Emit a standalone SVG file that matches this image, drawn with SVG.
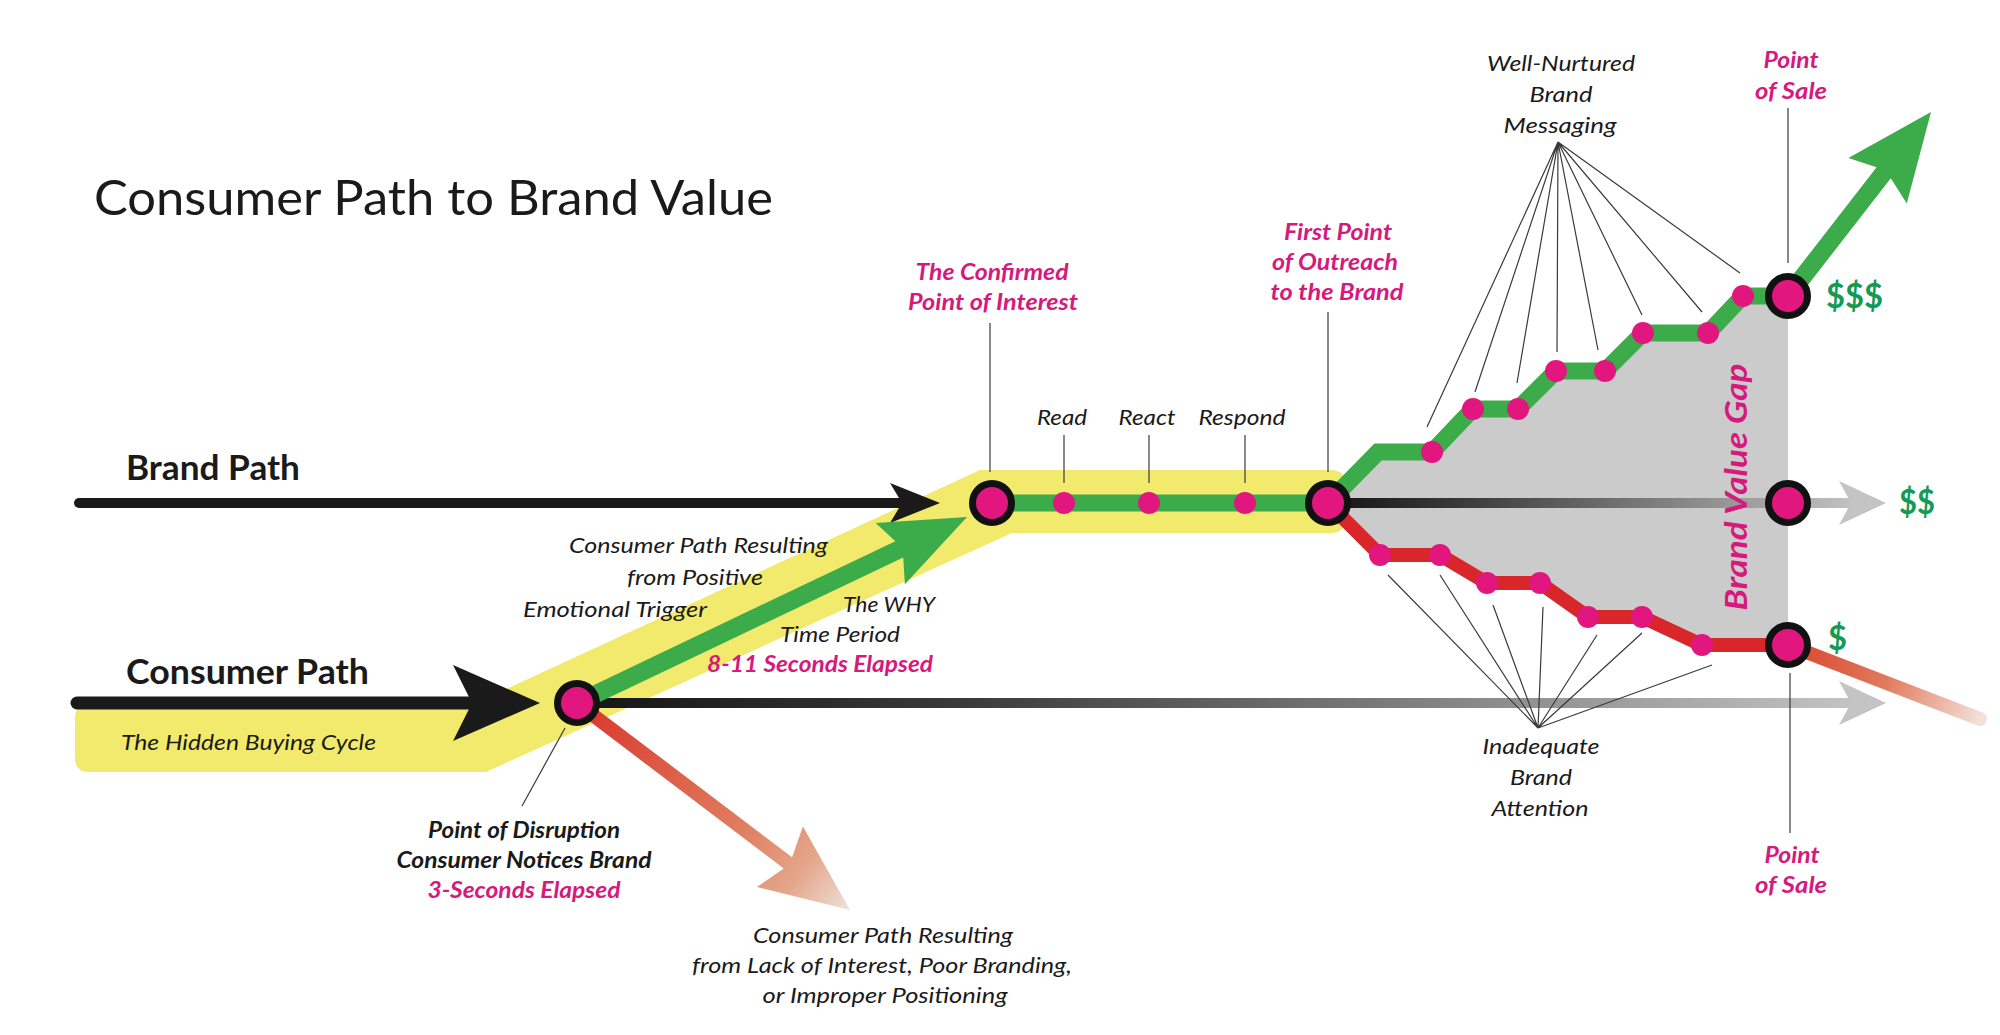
<svg xmlns="http://www.w3.org/2000/svg" width="2000" height="1035" viewBox="0 0 2000 1035">
<defs>
<style>
.t{font-family:Lato,"Open Sans","Liberation Sans",sans-serif}
.title{font-size:48px;fill:#1a1a1a}
.hb{font-size:34px;font-weight:bold;fill:#1a1a1a}
.it{font-size:22px;font-style:italic;fill:#1a1a1a}
.itb{font-size:22px;font-style:italic;font-weight:bold;fill:#1a1a1a}
.pk{font-size:22px;font-style:italic;font-weight:bold;fill:#d6197c}
.dl{font-size:34px;font-weight:bold;fill:#139a55}
.gap{font-size:30px;font-weight:bold;font-style:italic;fill:#d6197c}
.lead{stroke:#3a3a3a;stroke-width:1.2;fill:none}
.node{fill:#e1177f;stroke:#111;stroke-width:7}
.dot{fill:#e1177f}
.grn{fill:#3cac4a}
</style>
<linearGradient id="gBot" gradientUnits="userSpaceOnUse" x1="577" y1="0" x2="1860" y2="0">
<stop offset="0" stop-color="#151515"/><stop offset="0.3" stop-color="#3a3a3a"/><stop offset="1" stop-color="#c4c4c4"/>
</linearGradient>
<linearGradient id="gMid" gradientUnits="userSpaceOnUse" x1="1328" y1="0" x2="1860" y2="0">
<stop offset="0" stop-color="#151515"/><stop offset="0.25" stop-color="#3a3a3a"/><stop offset="1" stop-color="#c4c4c4"/>
</linearGradient>
<linearGradient id="gRed" gradientUnits="userSpaceOnUse" x1="577" y1="703" x2="850" y2="910">
<stop offset="0" stop-color="#d9352a"/><stop offset="0.6" stop-color="#df7d60"/><stop offset="0.82" stop-color="#e4a68a"/><stop offset="1" stop-color="#eee2dc"/>
</linearGradient>
<linearGradient id="gTail" gradientUnits="userSpaceOnUse" x1="1788" y1="645" x2="1982" y2="720">
<stop offset="0" stop-color="#d9452d"/><stop offset="0.5" stop-color="#e07a5c"/><stop offset="1" stop-color="#f4e2da"/>
</linearGradient>
</defs>
<rect width="2000" height="1035" fill="#ffffff"/>

<text x="94" y="215" class="t title" textLength="679" lengthAdjust="spacingAndGlyphs">Consumer Path to Brand Value</text>

<g id="backgrounds">
<path d="M89,772 L486,772 L1012,533 L1331,533 Q1345,533 1345,519 L1345,484 Q1345,470 1331,470 L980,470 L474,704 L89,704 Q75,704 75,718 L75,758 Q75,772 89,772 Z" fill="#f1ea6c"/>
<path d="M1328,503 L1378,452 L1432,452 L1473,409 L1518,409 L1556,371 L1605,371 L1643,333 L1708,333 L1743,296 L1788,296 L1788,645 L1702,645 L1642,617 L1588,617 L1540,583 L1487,583 L1440,555 L1380,555 Z" fill="#cbcbcb"/>
</g>

<g id="connectors">
<line x1="79" y1="503" x2="905" y2="503" stroke="#1a1a1a" stroke-width="10" stroke-linecap="round"/>
<polygon points="890,483 940,503 890,523 902,503" fill="#1a1a1a"/>
<line x1="77" y1="703" x2="470" y2="703" stroke="#1a1a1a" stroke-width="13" stroke-linecap="round"/>
<polygon points="453,665 540,703 453,741 472,703" fill="#1a1a1a"/>
<line x1="577" y1="703" x2="1852" y2="703" stroke="url(#gBot)" stroke-width="10"/>
<polygon points="1839,681 1886,703 1839,725 1851,703" fill="#c4c4c4"/>
<line x1="1328" y1="503" x2="1852" y2="503" stroke="url(#gMid)" stroke-width="10"/>
<polygon points="1839,481 1886,503 1839,525 1851,503" fill="#c4c4c4"/>
<polygon points="581.2,697.4 792.1,857.2 802.9,826.5 850,910 756.9,887.1 783.7,868.4 572.8,708.6" fill="url(#gRed)"/>
<polygon class="grn" points="573.1,694.9 895.4,541.2 875.7,522.9 967,517 904.9,584.3 903.2,557.4 580.9,711.1"/>
<line x1="992" y1="503" x2="1328" y2="503" stroke="#3cac4a" stroke-width="17"/>
<polyline points="1328,503 1378,452 1432,452 1473,409 1518,409 1556,371 1605,371 1643,333 1708,333 1743,296 1788,296" fill="none" stroke="#3cac4a" stroke-width="17" stroke-linejoin="miter"/>
<polygon class="grn" points="1780.9,290.5 1876.6,167.3 1848.4,158 1931,112 1906.8,203.4 1890.8,178.3 1795.1,301.5"/>
<polyline points="1328,503 1380,555 1440,555 1487,583 1540,583 1588,617 1642,617 1702,645 1788,645" fill="none" stroke="#d8262b" stroke-width="14" stroke-linejoin="miter"/>
<line x1="1788" y1="645" x2="1980" y2="719" stroke="url(#gTail)" stroke-width="14" stroke-linecap="round"/>
</g>

<text class="t gap" transform="translate(1747,487) rotate(-90)" text-anchor="middle" textLength="247" lengthAdjust="spacingAndGlyphs">Brand Value Gap</text>

<g id="leaders">
<line class="lead" x1="990" y1="323" x2="990" y2="472"/>
<line class="lead" x1="1064" y1="435" x2="1064" y2="483"/>
<line class="lead" x1="1149" y1="435" x2="1149" y2="483"/>
<line class="lead" x1="1245" y1="435" x2="1245" y2="483"/>
<line class="lead" x1="1328" y1="312" x2="1328" y2="472"/>
<line class="lead" x1="1788" y1="108" x2="1788" y2="263"/>
<line class="lead" x1="1790" y1="673" x2="1790" y2="833"/>
<line class="lead" x1="565" y1="728" x2="522" y2="806"/>
<path class="lead" d="M1558,142 L1427,427 M1558,142 L1475,392 M1558,142 L1517,383 M1558,142 L1557,352 M1558,142 L1598,350 M1558,142 L1642,315 M1558,142 L1702,312 M1558,142 L1740,273"/>
<path class="lead" d="M1538,728 L1388,575 M1538,728 L1440,575 M1538,728 L1493,605 M1538,728 L1543,607 M1538,728 L1597,635 M1538,728 L1642,633 M1538,728 L1712,665"/>
</g>

<g id="dots">
<circle class="dot" cx="1064" cy="503" r="11"/>
<circle class="dot" cx="1149" cy="503" r="11"/>
<circle class="dot" cx="1245" cy="503" r="11"/>
<circle class="dot" cx="1432" cy="452" r="11"/>
<circle class="dot" cx="1473" cy="409" r="11"/>
<circle class="dot" cx="1518" cy="409" r="11"/>
<circle class="dot" cx="1556" cy="371" r="11"/>
<circle class="dot" cx="1605" cy="371" r="11"/>
<circle class="dot" cx="1643" cy="333" r="11"/>
<circle class="dot" cx="1708" cy="333" r="11"/>
<circle class="dot" cx="1743" cy="296" r="11"/>
<circle class="dot" cx="1380" cy="555" r="11"/>
<circle class="dot" cx="1440" cy="555" r="11"/>
<circle class="dot" cx="1487" cy="583" r="11"/>
<circle class="dot" cx="1540" cy="583" r="11"/>
<circle class="dot" cx="1588" cy="617" r="11"/>
<circle class="dot" cx="1642" cy="617" r="11"/>
<circle class="dot" cx="1702" cy="645" r="11"/>
</g>

<g id="node-brand-path">
<text x="126" y="480" class="t hb" textLength="174" lengthAdjust="spacingAndGlyphs">Brand Path</text>
</g>
<g id="node-consumer-path">
<text x="126" y="684" class="t hb" textLength="243" lengthAdjust="spacingAndGlyphs">Consumer Path</text>
<text x="121" y="750" class="t it" textLength="255" lengthAdjust="spacingAndGlyphs">The Hidden Buying Cycle</text>
</g>
<g id="node-disruption">
<circle class="node" cx="577" cy="703" r="19.5"/>
<text x="524" y="838" class="t itb" text-anchor="middle" textLength="192" lengthAdjust="spacingAndGlyphs">Point of Disruption</text>
<text x="524" y="868" class="t itb" text-anchor="middle" textLength="255" lengthAdjust="spacingAndGlyphs">Consumer Notices Brand</text>
<text x="524" y="898" class="t pk" text-anchor="middle" textLength="193" lengthAdjust="spacingAndGlyphs">3-Seconds Elapsed</text>
</g>
<g id="node-positive">
<text x="569" y="553" class="t it" textLength="259" lengthAdjust="spacingAndGlyphs">Consumer Path Resulting</text>
<text x="627" y="585" class="t it" textLength="136" lengthAdjust="spacingAndGlyphs">from Positive</text>
<text x="523" y="617" class="t it" textLength="184" lengthAdjust="spacingAndGlyphs">Emotional Trigger</text>
</g>
<g id="node-why">
<text x="843" y="612" class="t it" textLength="92" lengthAdjust="spacingAndGlyphs">The WHY</text>
<text x="780" y="642" class="t it" textLength="120" lengthAdjust="spacingAndGlyphs">Time Period</text>
<text x="707" y="672" class="t pk" textLength="226" lengthAdjust="spacingAndGlyphs">8-11 Seconds Elapsed</text>
</g>
<g id="node-negative">
<text x="883" y="943" class="t it" text-anchor="middle" textLength="260" lengthAdjust="spacingAndGlyphs">Consumer Path Resulting</text>
<text x="882" y="973" class="t it" text-anchor="middle" textLength="380" lengthAdjust="spacingAndGlyphs">from Lack of Interest, Poor Branding,</text>
<text x="885" y="1003" class="t it" text-anchor="middle" textLength="245" lengthAdjust="spacingAndGlyphs">or Improper Positioning</text>
</g>
<g id="node-confirmed">
<circle class="node" cx="992" cy="503" r="19.5"/>
<text x="992" y="280" class="t pk" text-anchor="middle" textLength="153" lengthAdjust="spacingAndGlyphs">The Confirmed</text>
<text x="993" y="310" class="t pk" text-anchor="middle" textLength="170" lengthAdjust="spacingAndGlyphs">Point of Interest</text>
</g>
<g id="node-read">
<text x="1062" y="425" class="t it" text-anchor="middle" textLength="50" lengthAdjust="spacingAndGlyphs">Read</text>
</g>
<g id="node-react">
<text x="1147" y="425" class="t it" text-anchor="middle" textLength="57" lengthAdjust="spacingAndGlyphs">React</text>
</g>
<g id="node-respond">
<text x="1242" y="425" class="t it" text-anchor="middle" textLength="87" lengthAdjust="spacingAndGlyphs">Respond</text>
</g>
<g id="node-outreach">
<circle class="node" cx="1328" cy="503" r="19.5"/>
<text x="1338" y="240" class="t pk" text-anchor="middle" textLength="108" lengthAdjust="spacingAndGlyphs">First Point</text>
<text x="1335" y="270" class="t pk" text-anchor="middle" textLength="126" lengthAdjust="spacingAndGlyphs">of Outreach</text>
<text x="1337" y="300" class="t pk" text-anchor="middle" textLength="133" lengthAdjust="spacingAndGlyphs">to the Brand</text>
</g>
<g id="node-well-nurtured">
<text x="1561" y="71" class="t it" text-anchor="middle" textLength="148" lengthAdjust="spacingAndGlyphs">Well-Nurtured</text>
<text x="1561" y="102" class="t it" text-anchor="middle" textLength="63" lengthAdjust="spacingAndGlyphs">Brand</text>
<text x="1560" y="133" class="t it" text-anchor="middle" textLength="113" lengthAdjust="spacingAndGlyphs">Messaging</text>
</g>
<g id="node-inadequate">
<text x="1541" y="754" class="t it" text-anchor="middle" textLength="117" lengthAdjust="spacingAndGlyphs">Inadequate</text>
<text x="1541" y="785" class="t it" text-anchor="middle" textLength="62" lengthAdjust="spacingAndGlyphs">Brand</text>
<text x="1540" y="816" class="t it" text-anchor="middle" textLength="97" lengthAdjust="spacingAndGlyphs">Attention</text>
</g>
<g id="node-sale-high">
<circle class="node" cx="1788" cy="296" r="19.5"/>
<text x="1791" y="68" class="t pk" text-anchor="middle" textLength="55" lengthAdjust="spacingAndGlyphs">Point</text>
<text x="1791" y="99" class="t pk" text-anchor="middle" textLength="72" lengthAdjust="spacingAndGlyphs">of Sale</text>
<text x="1826" y="308" class="t dl" textLength="57" lengthAdjust="spacingAndGlyphs">$$$</text>
</g>
<g id="node-sale-mid">
<circle class="node" cx="1788" cy="503" r="19.5"/>
<text x="1899" y="514" class="t dl" textLength="36" lengthAdjust="spacingAndGlyphs">$$</text>
</g>
<g id="node-sale-low">
<circle class="node" cx="1788" cy="645" r="19.5"/>
<text x="1828" y="650" class="t dl" textLength="19" lengthAdjust="spacingAndGlyphs">$</text>
<text x="1792" y="863" class="t pk" text-anchor="middle" textLength="55" lengthAdjust="spacingAndGlyphs">Point</text>
<text x="1791" y="893" class="t pk" text-anchor="middle" textLength="72" lengthAdjust="spacingAndGlyphs">of Sale</text>
</g>
</svg>
